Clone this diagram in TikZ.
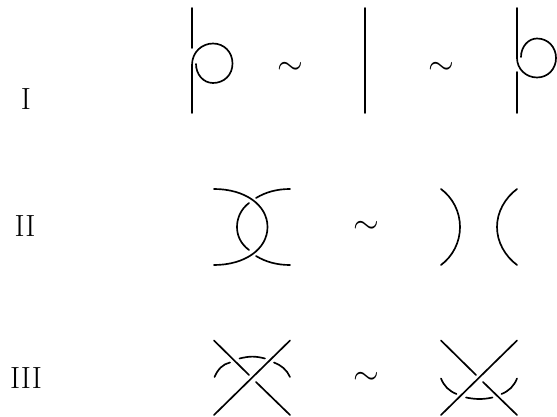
\documentclass[tikz,border=0pt]{standalone}
\usepackage{amsmath}
\begin{document}
\begin{tikzpicture}[
  x=0.75pt, y=-0.75pt,
  strand/.style={line width=1.25pt, line cap=round},
  movelabel/.style={font=\fontsize{23}{27}\selectfont},
  equiv/.style={font=\fontsize{24}{28}\selectfont}
]
\useasboundingbox (0,0) rectangle (557,417);

% labels
\node[movelabel] (moveI) at (26,99) {I};
\node[movelabel] (moveII) at (25,226) {II};
\node[movelabel] (moveIII) at (26,378) {III};

% equivalences
\node[equiv] (simIa) at (290,68.5) {$\sim$};
\node[equiv] (simIb) at (441,68.5) {$\sim$};
\node[equiv] (simII) at (366,227.5) {$\sim$};
\node[equiv] (simIII) at (366,378.5) {$\sim$};

% move I
\draw[strand] (192,8) -- (192,48);
\draw[strand] (192,113) -- (192,65) .. controls (192,52) and (202,43.5) .. (213,43.5)
  .. controls (224,43.5) and (232.5,52) .. (232.5,63.5) .. controls (232.5,75) and (224,83) .. (213,83)
  .. controls (203,83) and (196,74) .. (196,64);
\draw[strand] (365,8) -- (365,113);
\draw[strand] (517,8) -- (517,58) .. controls (517,69) and (526,77.5) .. (537,77.5)
  .. controls (548,77.5) and (556,69) .. (556,58) .. controls (556,47) and (548,38.5) .. (537,38.5)
  .. controls (528,38.5) and (521,47) .. (521,57);
\draw[strand] (517,72) -- (517,113);

% move II
\draw[strand] (214,189) .. controls (245,189) and (267.5,205) .. (267.5,227) .. controls (267.5,249) and (245,265) .. (214,265);
\draw[strand] (290,189) .. controls (277,189) and (266,192) .. (256,198);
\draw[strand] (249,203) .. controls (241,209) and (237,218) .. (237,227) .. controls (237,236) and (241,244) .. (249,250);
\draw[strand] (256,256) .. controls (266,262) and (277,265) .. (290,265);
\draw[strand] (441,189) .. controls (453,198) and (460,212) .. (460,227) .. controls (460,242) and (453,256) .. (441,265);
\draw[strand] (517,189) .. controls (505,198) and (497,212) .. (497,227) .. controls (497,242) and (505,256) .. (517,265);

% move III
\draw[strand] (214,340.5) -- (249,375);
\draw[strand] (256,382) -- (290,415);
\draw[strand] (290,340.5) -- (214,415);
\draw[strand] (214.5,377) .. controls (218,369) and (223,364) .. (230,362.5);
\draw[strand] (239.5,358.5) .. controls (250,356) and (255,356) .. (265,358.5);
\draw[strand] (274,362.5) .. controls (281,365) and (287,370) .. (290,377);
\draw[strand] (441,340.5) -- (476,375);
\draw[strand] (483,382) -- (517,415);
\draw[strand] (517,340.5) -- (441,415);
\draw[strand] (441,378.5) .. controls (444,386) and (449,391) .. (456.5,394);
\draw[strand] (466,397.5) .. controls (476,399.5) and (483,399.5) .. (492.5,397.5);
\draw[strand] (501.5,394) .. controls (509,391) and (514,386) .. (517,378.5);
\end{tikzpicture}
\end{document}
